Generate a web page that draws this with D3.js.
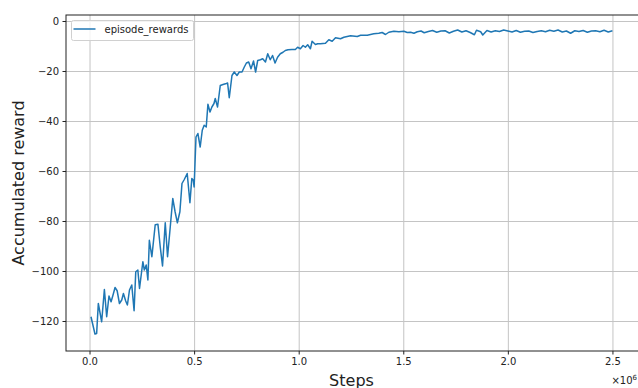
<!DOCTYPE html>
<html>
<head>
<meta charset="utf-8">
<script src="https://cdn.jsdelivr.net/npm/d3@7"></script>
<style>
  body { margin: 0; background: #fff; }
  svg { display: block; font-family: "DejaVu Sans", sans-serif; }
</style>
</head>
<body>
<div id="chart"></div>
<script>
// Steps (in units of 1e6) and the episode reward read at each step
const steps = [
  0.007, 0.026, 0.034, 0.042, 0.058, 0.071, 0.082, 0.093, 0.103, 0.111,
  0.122, 0.132, 0.143, 0.154, 0.162, 0.173, 0.181, 0.191, 0.202, 0.213,
  0.221, 0.231, 0.239, 0.247, 0.255, 0.262, 0.271, 0.279, 0.286, 0.298,
  0.314, 0.327, 0.338, 0.349, 0.362, 0.373, 0.386, 0.398, 0.409, 0.420,
  0.432, 0.442, 0.453, 0.467, 0.480, 0.489, 0.496, 0.500, 0.509, 0.518,
  0.529, 0.539, 0.548, 0.558, 0.566, 0.576, 0.585, 0.595, 0.601, 0.612,
  0.625, 0.638, 0.654, 0.660, 0.668, 0.681, 0.692, 0.705, 0.716, 0.729,
  0.740, 0.750, 0.761, 0.772, 0.784, 0.794, 0.804, 0.817, 0.828, 0.841,
  0.852, 0.864, 0.875, 0.887, 0.899, 0.912, 0.925, 0.936, 0.949, 0.968,
  0.984, 0.995, 1.008, 1.021, 1.032, 1.043, 1.056, 1.064, 1.080, 1.091,
  1.104, 1.128, 1.144, 1.160, 1.176, 1.200, 1.216, 1.248, 1.280, 1.296,
  1.328, 1.359, 1.383, 1.399, 1.415, 1.431, 1.455, 1.479, 1.503, 1.519,
  1.535, 1.551, 1.567, 1.585, 1.600, 1.620, 1.640, 1.660, 1.680, 1.700,
  1.720, 1.740, 1.760, 1.780, 1.800, 1.820, 1.840, 1.850, 1.870, 1.880,
  1.900, 1.920, 1.940, 1.960, 1.980, 2.000, 2.020, 2.040, 2.060, 2.080,
  2.100, 2.120, 2.140, 2.160, 2.180, 2.200, 2.220, 2.240, 2.260, 2.280,
  2.300, 2.320, 2.340, 2.360, 2.380, 2.400, 2.420, 2.440, 2.460, 2.480,
  2.500
];
const episode_rewards = [
  -118.3, -125.2, -125.0, -113.0, -120.3, -107.4, -118.3, -110.0, -112.3, -110.0,
  -106.6, -107.9, -113.0, -111.6, -109.0, -112.0, -113.6, -107.6, -105.6, -115.9,
  -100.3, -99.6, -107.0, -101.6, -96.3, -99.6, -97.6, -103.6, -87.7, -94.3,
  -81.5, -81.3, -90.3, -98.0, -80.7, -94.3, -82.3, -71.0, -76.3, -80.7,
  -76.3, -65.0, -63.4, -61.0, -72.7, -63.0, -63.7, -66.4, -46.4, -45.0,
  -50.4, -43.7, -41.7, -42.4, -33.3, -36.4, -34.4, -33.0, -31.0, -34.4,
  -25.8, -25.4, -25.0, -24.8, -30.7, -21.8, -20.4, -21.8, -20.4, -20.4,
  -18.4, -16.8, -16.4, -19.1, -16.0, -20.4, -15.8, -15.5, -15.1, -16.4,
  -13.1, -15.5, -13.8, -16.8, -14.5, -13.1, -12.5, -11.8, -11.5, -11.4,
  -11.4, -10.5, -11.1, -9.8, -10.5, -9.5, -11.1, -8.1, -9.4, -9.1,
  -9.1, -8.9, -7.5, -8.1, -6.7, -7.1, -6.5, -5.9, -6.2, -5.7,
  -5.7, -5.1, -4.9, -4.6, -5.4, -4.5, -4.1, -4.3, -4.1, -4.6,
  -4.5, -4.9, -4.3, -4.0, -4.7, -4.2, -3.8, -4.5, -4.0, -3.9,
  -4.8, -4.1, -3.6, -4.4, -3.9, -4.6, -5.5, -3.7, -4.3, -5.6,
  -3.8, -4.4, -3.9, -4.2, -3.6, -4.0, -4.4, -3.8, -4.5, -4.1,
  -4.0, -4.6, -4.2, -3.9, -4.3, -3.7, -4.1, -3.6, -4.4, -4.0,
  -4.9, -3.9, -4.2, -3.8, -4.5, -4.0, -3.9, -4.3, -3.7, -4.4,
  -3.9
];
const x_ticks = [0.0, 0.5, 1.0, 1.5, 2.0, 2.5];
const y_ticks = [0, -20, -40, -60, -80, -100, -120];

// Set the dimensions and margins of the graph
let margin = {top: 15, right: 0, bottom: 37, left: 66};
let width = 638 - margin.left - margin.right;
let height = 388 - margin.top - margin.bottom;

let svg = d3.select("#chart")
  .append("svg")
    .attr("width", 638)
    .attr("height", 388);
let g = svg.append("g")
    .attr("transform", "translate(" + margin.left + "," + margin.top + ")");

let x = d3.scaleLinear()
  .domain([-0.1125, 2.6222])
  .range([0, width]);
let y = d3.scaleLinear()
  .domain([-132, 2.4])
  .range([height, 0]);

// grid
g.append("g")
  .attr("transform", "translate(0," + height + ")")
  .call(d3.axisBottom(x).tickValues(x_ticks).tickSize(-height).tickFormat(""))
  .call(a => a.select(".domain").remove())
  .selectAll("line").attr("stroke", "#c4c4c4").attr("stroke-width", 1);
g.append("g")
  .call(d3.axisLeft(y).tickValues(y_ticks).tickSize(-width).tickFormat(""))
  .call(a => a.select(".domain").remove())
  .selectAll("line").attr("stroke", "#c4c4c4").attr("stroke-width", 1);

// Add X axis
let xAxis = g.append("g")
  .attr("transform", "translate(0," + height + ")")
  .call(d3.axisBottom(x).tickValues(x_ticks).tickSizeInner(3.5).tickSizeOuter(0)
    .tickPadding(3.5).tickFormat(d3.format(".1f")));
// Add Y axis
let yAxis = g.append("g")
  .call(d3.axisLeft(y).tickValues(y_ticks).tickSizeInner(3.5).tickSizeOuter(0)
    .tickPadding(3.5).tickFormat(d3.format("d")));
[xAxis, yAxis].forEach(a => {
  a.select(".domain").remove();
  a.selectAll("line").attr("stroke", "#222");
  a.selectAll("text").attr("fill", "#222").style("font-size", "10px")
    .style("font-family", "DejaVu Sans");
});

// the line
let line = d3.line()
  .x((d, i) => x(steps[i]))
  .y(d => y(d));
g.append("path")
  .datum(episode_rewards)
  .attr("fill", "none")
  .attr("stroke", "#1f77b4")
  .attr("stroke-width", 1.5)
  .attr("stroke-linejoin", "round")
  .attr("d", line);

// frame (right spine falls just outside the picture)
g.append("rect")
  .attr("x", 0).attr("y", 0)
  .attr("width", width + 1).attr("height", height)
  .attr("fill", "none")
  .attr("stroke", "#222")
  .attr("stroke-width", 1);

// legend
let legend = g.append("g").attr("transform", "translate(5.5,5.5)");
legend.append("rect")
  .attr("width", 122).attr("height", 20)
  .attr("rx", 2)
  .attr("fill", "white").attr("fill-opacity", 0.8)
  .attr("stroke", "#d0d0d0");
legend.append("line")
  .attr("x1", 2).attr("x2", 24).attr("y1", 8.5).attr("y2", 8.5)
  .attr("stroke", "#1f77b4").attr("stroke-width", 1.5);
legend.append("text")
  .attr("x", 33).attr("y", 12.3)
  .style("font-size", "10px")
  .attr("fill", "#222")
  .text("episode_rewards");

// axis labels
svg.append("text")
  .attr("x", margin.left + 285.5)
  .attr("y", 385.5)
  .attr("text-anchor", "middle")
  .style("font-size", "16px")
  .attr("fill", "#222")
  .text("Steps");
svg.append("text")
  .attr("transform", "translate(24," + (margin.top + height / 2) + ") rotate(-90)")
  .attr("text-anchor", "middle")
  .style("font-size", "16px")
  .attr("fill", "#222")
  .text("Accumulated reward");

// offset text
let off = svg.append("text")
  .attr("x", 637)
  .attr("y", 384)
  .attr("text-anchor", "end")
  .style("font-size", "10px")
  .attr("fill", "#222");
off.append("tspan").text("×10");
off.append("tspan").attr("dy", -4).style("font-size", "7px").text("6");
</script>
</body>
</html>
